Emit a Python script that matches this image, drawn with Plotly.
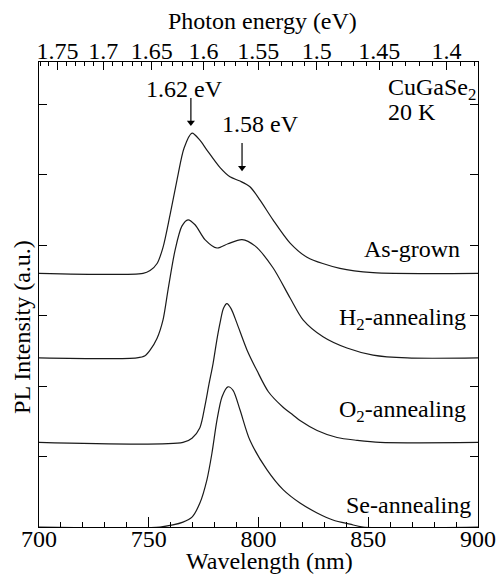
import plotly.graph_objects as go

# ---------------- data ----------------
sample_names = ["As-grown", "H<sub>2</sub>-annealing", "O<sub>2</sub>-annealing", "Se-annealing"]
offsets = [3.6, 2.4, 1.2, 0.0]

asgrown_wl = [700, 747.4, 750.6, 753.8, 756.5, 759.7, 762.9, 766.1, 769.7, 773.3, 776.5, 782.5,
              787.0, 791.6, 796.1, 800.7, 806.6, 814.4, 822.1, 837.1, 852.2, 900]
asgrown_int = [0, 0, 0.04, 0.14, 0.37, 0.83, 1.33, 1.78, 1.99, 1.89, 1.75, 1.50,
               1.37, 1.31, 1.23, 1.04, 0.76, 0.43, 0.23, 0.07, 0.01, 0]

h2_wl = [700, 744.6, 748.3, 750.6, 753.8, 756.5, 758.8, 762.0, 765.1, 767.9, 771.1, 775.6, 781.1,
         786.1, 792.5, 798.4, 806.6, 814.4, 820.3, 829.4, 840.3, 852.2, 867.7, 900]
h2_int = [0, 0, 0.03, 0.11, 0.28, 0.54, 0.97, 1.53, 1.87, 1.96, 1.89, 1.68, 1.56,
          1.62, 1.68, 1.59, 1.28, 0.85, 0.54, 0.30, 0.14, 0.04, 0, 0]

o2_wl = [700, 765.6, 769.7, 773.3, 775.6, 777.4, 779.3, 781.0, 782.5, 784.0, 785.6, 787.5, 790.2,
         794.8, 799.3, 804.5, 811.2, 815.7, 818.9, 826.7, 835.8, 844.9, 855.4, 900]
o2_int = [0, 0, 0.06, 0.21, 0.52, 0.82, 1.12, 1.45, 1.70, 1.90, 1.97, 1.90, 1.69,
          1.31, 1.02, 0.72, 0.50, 0.39, 0.31, 0.17, 0.07, 0.03, 0, 0]

se_wl = [700, 755.1, 761.0, 765.6, 769.7, 773.3, 776.5, 778.8, 781.1, 783.4, 786.1, 788.4, 791.6,
         796.1, 803.9, 811.2, 818.9, 826.7, 833.9, 841.7, 847.6, 900]
se_int = [0, 0, 0.03, 0.07, 0.14, 0.34, 0.67, 1.05, 1.52, 1.85, 1.99, 1.94, 1.66,
          1.23, 0.81, 0.53, 0.34, 0.20, 0.10, 0.04, 0, 0]

wl_ticks = [700, 750, 800, 850, 900]
energy_ticks = [1.75, 1.7, 1.65, 1.6, 1.55, 1.5, 1.45, 1.4]
energy_tick_text = ["1.75", "1.7", "1.65", "1.6", "1.55", "1.5", "1.45", "1.4"]
peak_energies = [1.62, 1.58]
peak_wl = [769.2, 792.5]          # where the arrows point
arrow_tail = [6.09, 5.45]
arrow_tip = [5.68, 5.04]

HC = 1239.84  # eV*nm

series = [(asgrown_wl, asgrown_int), (h2_wl, h2_int), (o2_wl, o2_int), (se_wl, se_int)]

FONT = "Liberation Serif"
FS = 24

fig = go.Figure()
for (wl, inten), off in zip(series, offsets):
    fig.add_trace(go.Scatter(
        x=wl, y=[v + off for v in inten], mode="lines",
        line=dict(color="#1a1a1a", width=1.2, shape="spline", smoothing=0.8),
        showlegend=False, hoverinfo="skip"))

# arrows marking the two peaks
for px, yt, yh in zip(peak_wl, arrow_tail, arrow_tip):
    fig.add_trace(go.Scatter(x=[px, px], y=[yt, yh + 0.08], mode="lines",
                             line=dict(color="black", width=1.2),
                             showlegend=False, hoverinfo="skip"))
    fig.add_trace(go.Scatter(x=[px], y=[yh + 0.06], mode="markers",
                             marker=dict(symbol="triangle-down", size=7, color="black",
                                         line=dict(width=0)),
                             showlegend=False, hoverinfo="skip"))

# dummy trace to activate top axis
fig.add_trace(go.Scatter(x=[700, 900], y=[0, 0], xaxis="x2", mode="lines",
                         line=dict(width=0), opacity=0, showlegend=False, hoverinfo="skip"))

major_e_pos = [HC / e for e in energy_ticks]
minor_e = [round(1.38 + 0.01 * i, 2) for i in range(40)]
minor_e = [e for e in minor_e if all(abs(e - m) > 1e-6 for m in energy_ticks)]
minor_e_pos = [HC / e for e in minor_e if 700 <= HC / e <= 900]

axis_common = dict(showline=True, linecolor="black", linewidth=1, ticks="inside",
                   tickcolor="black", tickfont=dict(family=FONT, size=FS, color="black"),
                   showgrid=False, zeroline=False, automargin=False)

fig.update_layout(
    width=497, height=576,
    margin=dict(l=39, r=19, t=62, b=49),
    paper_bgcolor="white", plot_bgcolor="white",
    font=dict(family=FONT, size=FS, color="black"),
    xaxis=dict(range=[700, 900], tickvals=wl_ticks, ticklen=10, tickwidth=1,
               ticklabelstandoff=-10,
               minor=dict(dtick=10, ticklen=5, tickcolor="black", ticks="inside", showgrid=False),
               **axis_common),
    xaxis2=dict(range=[700, 900], overlaying="x", side="top", anchor="y",
                tickvals=major_e_pos, ticktext=energy_tick_text, ticklen=8, tickwidth=1,
                ticklabelstandoff=-8,
                minor=dict(tickvals=minor_e_pos, ticklen=4, tickcolor="black", ticks="inside",
                           showgrid=False),
                **axis_common),
    yaxis=dict(range=[0, 6.6], tickvals=[1, 2, 3, 4, 5, 6], showticklabels=False,
               ticklen=8, tickwidth=1, mirror="ticks", **axis_common),
)

annots = [
    dict(text="Wavelength (nm)", xref="paper", yref="paper", x=0.524, y=-0.074,
         xanchor="center", yanchor="middle", showarrow=False),
    dict(text="Photon energy (eV)", xref="paper", yref="paper", x=0.508, y=1.088,
         xanchor="center", yanchor="middle", showarrow=False),
    dict(text="PL Intensity (a.u.)", xref="paper", yref="paper", x=-0.039, y=0.43,
         xanchor="center", yanchor="middle", textangle=-90, showarrow=False),
    dict(text="CuGaSe<sub>2</sub>", x=858.1, y=6.22, xanchor="left", yanchor="middle", showarrow=False),
    dict(text="20 K", x=858.1, y=5.89, xanchor="left", yanchor="middle", showarrow=False),
    dict(text="%.2f eV" % peak_energies[0], x=766.1, y=6.22, xanchor="center",
         yanchor="middle", showarrow=False),
    dict(text="%.2f eV" % peak_energies[1], x=800.7, y=5.72, xanchor="center",
         yanchor="middle", showarrow=False),
]
label_pos = [(892.7, 3.95), (895.4, 2.95), (895.4, 1.65), (897.7, 0.31)]
for name, (lx, ly) in zip(sample_names, label_pos):
    annots.append(dict(text=name, x=lx, y=ly, xanchor="right", yanchor="middle", showarrow=False))
for a in annots:
    a.setdefault("font", dict(family=FONT, size=FS, color="black"))
fig.update_layout(annotations=annots)

fig.write_html("out.html", config={"displayModeBar": False},
               post_script="document.body.style.margin='0';")
